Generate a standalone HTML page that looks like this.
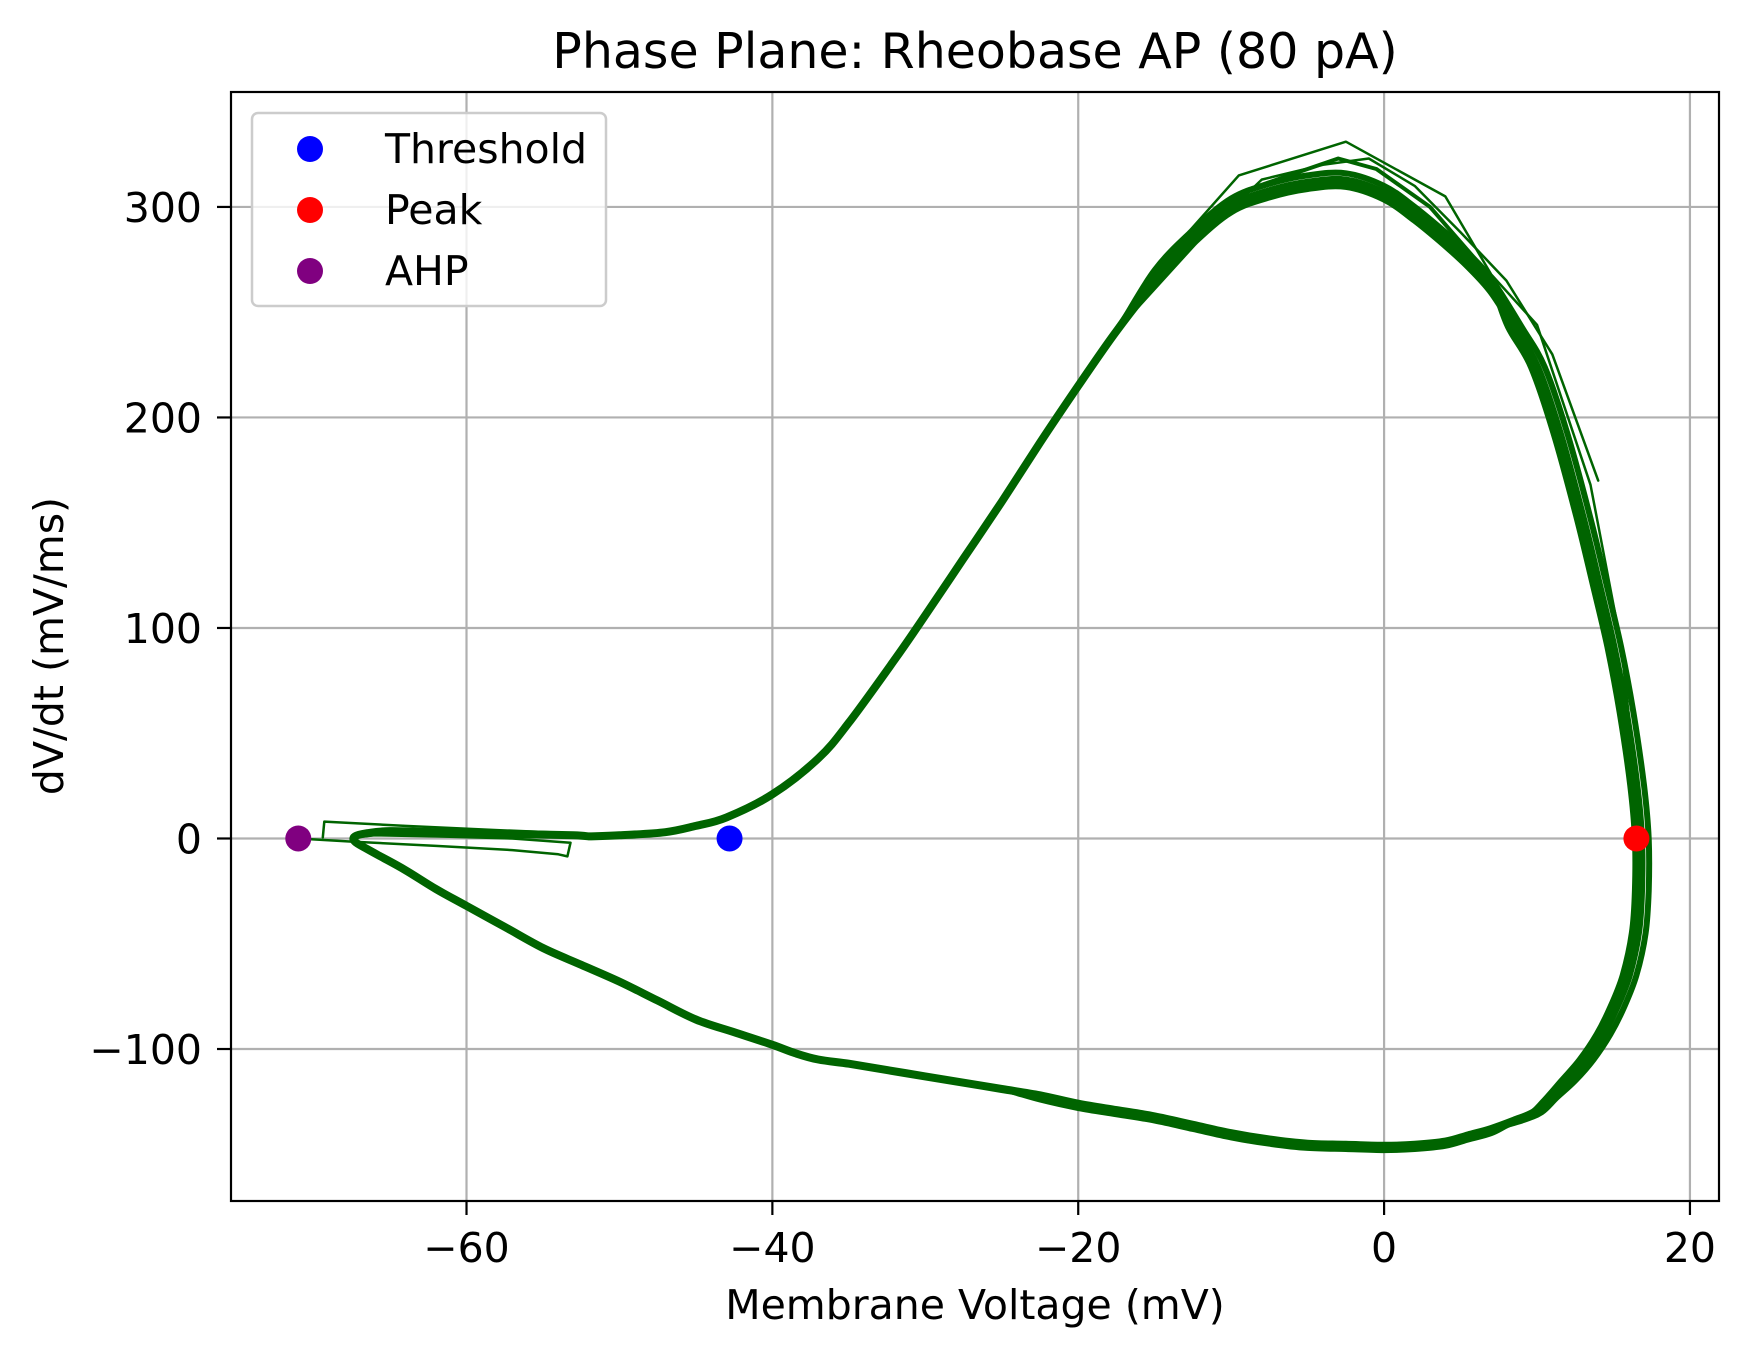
<!DOCTYPE html>
<html><head><meta charset="utf-8"><style>
html,body{margin:0;padding:0;background:#fff;}
svg{display:block;font-family:"DejaVu Sans","Liberation Sans",sans-serif;}
</style></head><body>
<svg id="chart" width="1748" height="1357" viewBox="0 0 1748 1357">
<rect x="0" y="0" width="1748" height="1357" fill="#fff"/>
<g id="grid"></g>
<g id="series"></g>
<g id="points"></g>
<rect x="231" y="92" width="1488" height="1109" fill="none" stroke="#000" stroke-width="2.2"/>
<g id="ticks"></g>
<text x="975" y="68" text-anchor="middle" font-size="49">Phase Plane: Rheobase AP (80 pA)</text>
<text x="975" y="1319" text-anchor="middle" font-size="41">Membrane Voltage (mV)</text>
<text x="0" y="0" transform="translate(63,646) rotate(-90)" text-anchor="middle" font-size="41">dV/dt (mV/ms)</text>
<g>
<rect x="252" y="113" width="354" height="193" rx="6" fill="#fff" fill-opacity="0.8" stroke="#ccc" stroke-width="2.5"/>
<g><circle cx="310" cy="149" r="13" fill="#0000ff"/><text x="385" y="163" font-size="41">Threshold</text></g>
<g><circle cx="310" cy="210" r="13" fill="#ff0000"/><text x="385" y="224" font-size="41">Peak</text></g>
<g><circle cx="310" cy="271" r="13" fill="#800080"/><text x="385" y="285" font-size="41">AHP</text></g>
</g>
</svg>
<script>
const xTicks=[-60,-40,-20,0,20];
const yTicks=[-100,0,100,200,300];
const mainV=[-52,-50,-47,-45,-43,-40,-37,-35,-32,-30,-27.5,-25,-22.5,-20,-17.5,-15,-12.5,-10,-7.5,-5,-2.5,0,2,4,5.5,7,8.5,10,11.5,13,14,15,15.8,16.5,16.8,16.8,16.6,16,15.2,14.3,13.2,12,10.8,9.8,8.5,7,5.5,4,2,0,-2.5,-5,-7.5,-10,-12.5,-15,-17.5,-20,-22.5,-25,-27.5,-30,-32.5,-35,-37,-38.5,-40,-42.5,-45,-47.5,-50,-52.5,-55,-57.5,-60,-62,-64,-65.5,-66.5,-67.3,-67.3,-66.5,-65,-62,-59,-56,-53,-52];
const mainD=[1,1.5,3,6,10,21,38,55,85,106,133,160,188,215,241,264,283,298,305,309,310,304,294,282,272,260,243,224,192,152,122,91,60,25,0,-25,-45,-65,-80,-93,-105,-115,-123,-130,-134,-138,-141,-144,-145.5,-146,-145.5,-145,-143,-140,-136,-132,-129,-126,-122,-119,-116,-113,-110,-107,-105,-102,-98,-92,-86,-77,-68,-60,-52,-42,-32,-24,-15,-9,-5,-1.5,1,2.5,3.5,3,2.5,2,1.5,1];
const spikeAV=[-20,-15,-9.5,-2.5,4,7,10,13.5,15.5,16.5];
const spikeAD=[216,270,315,331,305,268,244,168,92,25];
const spikeBV=[-17,-12,-8,-4,-1,2,5,8,11,14];
const spikeBD=[245,285,313,320,323,310,288,265,230,170];
const spikeCV=[-14,-9,-5,-3,-0.5,3,6,9.5];
const spikeCD=[272,308,318,323,318,300,275,235];
const loopAV=[-71,-67.5,-62,-57,-54,-53.4,-53.2,-57,-62,-66,-67.3];
const loopAD=[0,-1.5,-3.5,-5.5,-7.5,-8.5,-2,0,1,1.5,0.5];
const loopBV=[-69.4,-69.3,-64,-58,-53,-50];
const loopBD=[0.5,8,6,4,2.5,1.5];
const markerNames=["threshold","peak","ahp"];
const markerV=[-42.8,16.5,-71];
const markerD=[0,0,0];
const markerColors=["#0000ff","#ff0000","#800080"];

const X0=231,X1=1719,Y0=92,Y1=1201;
const xMin=-75.4,xMax=21.9,yMin=-172.2,yMax=354.6;
function sx(v){return X0+(v-xMin)/(xMax-xMin)*(X1-X0);}
function sy(v){return Y1-(v-yMin)/(yMax-yMin)*(Y1-Y0);}
const NS="http://www.w3.org/2000/svg";
function mk(t,a,p){const e=document.createElementNS(NS,t);for(const k in a)e.setAttribute(k,a[k]);p.appendChild(e);return e;}
const grid=document.getElementById('grid'),ticks=document.getElementById('ticks');
xTicks.forEach(t=>{const x=sx(t);
 const g=mk('line',{x1:x,x2:x,y1:Y0,y2:Y1,stroke:'#b0b0b0','stroke-width':2.2},grid);
 
 
 const tk=mk('line',{x1:x,x2:x,y1:Y1,y2:Y1+14,stroke:'#000','stroke-width':2.2},ticks);
 
 
 const lb=mk('text',{x:x,y:Y1+61,'text-anchor':'middle','font-size':41},ticks);
 lb.textContent=t<0?'\u2212'+(-t):String(t);
 
 
});
yTicks.forEach(t=>{const y=sy(t);
 const g=mk('line',{x1:X0,x2:X1,y1:y,y2:y,stroke:'#b0b0b0','stroke-width':2.2},grid);
 
 
 const tk=mk('line',{x1:X0-14,x2:X0,y1:y,y2:y,stroke:'#000','stroke-width':2.2},ticks);
 
 
 const lb=mk('text',{x:X0-29,y:y+15,'text-anchor':'end','font-size':41},ticks);
 lb.textContent=t<0?'\u2212'+(-t):String(t);
 
 
});
const series=document.getElementById('series');
function smoothPath(V,D){
 const P=V.map((v,i)=>[sx(v),sy(D[i])]);
 let d='M'+P[0][0].toFixed(1)+','+P[0][1].toFixed(1);
 for(let i=0;i<P.length-1;i++){
  const p0=P[Math.max(0,i-1)],p1=P[i],p2=P[i+1],p3=P[Math.min(P.length-1,i+2)];
  const c1=[p1[0]+(p2[0]-p0[0])/6,p1[1]+(p2[1]-p0[1])/6];
  const c2=[p2[0]-(p3[0]-p1[0])/6,p2[1]-(p3[1]-p1[1])/6];
  d+=' C'+c1[0].toFixed(1)+','+c1[1].toFixed(1)+' '+c2[0].toFixed(1)+','+c2[1].toFixed(1)+' '+p2[0].toFixed(1)+','+p2[1].toFixed(1);
 }
 return d;
}
function curve(V,D,w,name){
 const p=mk('path',{d:smoothPath(V,D),fill:'none',stroke:'#006400','stroke-width':w,'stroke-linejoin':'round','stroke-linecap':'round'},series);
 
 
}
function poly(V,D,w,name){
 const pts=V.map((v,i)=>sx(v).toFixed(1)+','+sy(D[i]).toFixed(1)).join(' ');
 const p=mk('polyline',{points:pts,fill:'none',stroke:'#006400','stroke-width':w,'stroke-linejoin':'round','stroke-linecap':'round'},series);
 
 
}
poly(loopAV,loopAD,2.5,'ahp-loop-a');
poly(loopBV,loopBD,2.5,'ahp-loop-b');
curve(mainV,mainD,8,'main-trajectory');
curve(mainV.map(v=>v>8?v+0.5:v),mainD.map(d=>d>250?d+6:d),6,'trajectory-variant');
curve(mainV.map(v=>v>8?v-0.4:v),mainD.map(d=>d<-120?d-2:(d>250?d+3:d)),6,'trajectory-variant-2');
poly(spikeAV,spikeAD,2.5,'spike-variant-a');
poly(spikeBV,spikeBD,2.5,'spike-variant-b');
poly(spikeCV,spikeCD,4,'spike-variant-c');
const points=document.getElementById('points');
markerV.forEach((v,i)=>{
 const c=mk('circle',{cx:sx(v),cy:sy(markerD[i]),r:13,fill:markerColors[i]},points);
 
 
});
</script>
</body></html>
